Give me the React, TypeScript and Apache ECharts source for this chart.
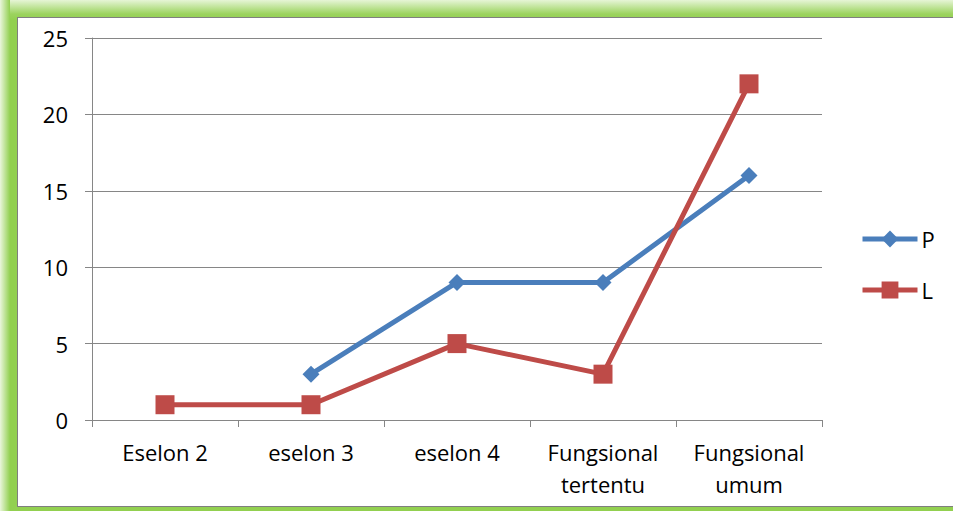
import React, { useEffect, useRef } from "react";
import * as echarts from "echarts";

const categories = ["Eselon 2", "eselon 3", "eselon 4", "Fungsional\ntertentu", "Fungsional\numum"];
const seriesP = [null, 3, 9, 9, 16];
const seriesL = [1, 1, 5, 3, 22];
const yTicks = { min: 0, max: 25, interval: 5 };

export default function App() {
  const ref = useRef<HTMLDivElement>(null);
  useEffect(() => {
    const chart = echarts.init(ref.current!, null, { renderer: "svg" });
    const font = "'Open Sans', 'Liberation Sans', sans-serif";
    chart.setOption({
      animation: false,
      grid: { left: 92, top: 38, right: 131, bottom: 91, containLabel: false },
      legend: {
        orient: "vertical",
        left: 855,
        top: 223,
        itemWidth: 55,
        itemHeight: 21,
        itemGap: 29,
        lineStyle: { width: 5 },
        textStyle: { fontFamily: font, fontSize: 22, color: "#000", padding: [0, 0, 0, -1] },
        data: ["P", "L"],
      },
      xAxis: {
        type: "category",
        data: categories,
        boundaryGap: true,
        axisLine: { lineStyle: { color: "#868686", width: 1 } },
        axisTick: { show: true, length: 7, alignWithLabel: false, lineStyle: { color: "#868686" } },
        axisLabel: { color: "#000", fontFamily: font, fontSize: 22, margin: 16, lineHeight: 32, interval: 0 },
      },
      yAxis: {
        type: "value",
        min: yTicks.min,
        max: yTicks.max,
        interval: yTicks.interval,
        axisLine: { show: true, lineStyle: { color: "#868686", width: 1 } },
        axisTick: { show: true, length: 7, lineStyle: { color: "#868686" } },
        axisLabel: { color: "#000", fontFamily: font, fontSize: 22, margin: 24 },
        splitLine: { lineStyle: { color: "#868686", width: 1 } },
      },
      series: [
        {
          name: "P",
          type: "line",
          data: seriesP,
          connectNulls: false,
          symbol: "diamond",
          symbolSize: 17,
          lineStyle: { color: "#4A7EBB", width: 5 },
          itemStyle: { color: "#4A7EBB" },
        },
        {
          name: "L",
          type: "line",
          data: seriesL,
          symbol: "rect",
          symbolSize: 19,
          lineStyle: { color: "#BE4B48", width: 5 },
          itemStyle: { color: "#BE4B48" },
        },
      ],
    });
    return () => chart.dispose();
  }, []);
  return (
    <div
      style={{
        position: "fixed",
        left: 0,
        top: 0,
        width: 953,
        height: 511,
        background: "linear-gradient(to bottom, #e6f5d6 0px, #9bd35e 14px, #92D050 20px)",
        overflow: "hidden",
      }}
    >
      <div
        style={{
          position: "absolute",
          left: 0,
          top: 0,
          width: 10,
          height: 511,
          background: "linear-gradient(to right, #eaf6dc 0px, #92D050 10px)",
        }}
      />
      <div
        style={{
          position: "absolute",
          left: 17,
          top: 17,
          width: 940,
          height: 490,
          background: "#fff",
          border: "1px solid #7f7f7f",
          boxSizing: "border-box",
        }}
      />
      <div ref={ref} style={{ position: "absolute", left: 0, top: 0, width: 953, height: 511 }} />
    </div>
  );
}
